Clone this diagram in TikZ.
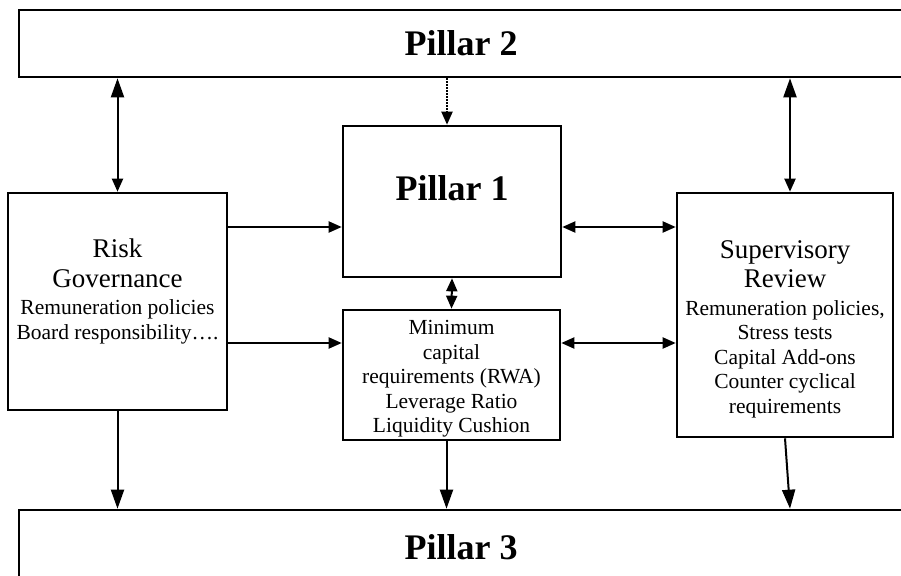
\documentclass[tikz,border=0pt]{standalone}
\usepackage{fontspec}
\setmainfont{Liberation Serif}
\usetikzlibrary{arrows.meta}

\begin{document}
\begin{tikzpicture}[x=1pt, y=-1pt,
	box/.style={draw, line width=2.6pt, inner sep=0pt},
	big/.style={font=\fontsize{36}{40}\selectfont\bfseries},
	txt/.style={align=center, font=\fontsize{21.5}{24.5}\selectfont},
	arr/.style={line width=2pt, -{Triangle[length=13pt,width=11pt]}},
	longarr/.style={line width=2pt, -{Triangle[length=19pt,width=13pt]}},
	dblarr/.style={line width=2pt, {Triangle[length=13pt,width=11pt]}-{Triangle[length=13pt,width=11pt]}},
	toparr/.style={line width=2pt, {Triangle[length=13pt,width=11pt]}-{Triangle[length=19pt,width=13pt]}}]
		\clip (0,0) rectangle (901,575);
		
		\node[box, big, minimum width=884pt, minimum height=67pt] (p2) at (461,43.5) {Pillar 2};
		\node[box, big, minimum width=884pt, minimum height=74pt] (p3) at (461,547) {Pillar 3};
		
		\node[box, minimum width=218pt, minimum height=151pt] (p1) at (452,201.5) {};
		\node[big] (p1txt) at ([yshift=13pt]p1.center) {Pillar 1};
		
		\node[box, minimum width=217pt, minimum height=130pt] (mincap) at (451.5,375) {};
		\node[txt] (mintxt) at ([yshift=-4pt]mincap.center) {Minimum\\capital\\requirements (RWA)\\Leverage Ratio\\Liquidity Cushion};
		
		\node[box, minimum width=219pt, minimum height=217pt] (risk) at (117.5,301.5) {};
		\node[txt] (risktxt) at ([yshift=10pt]risk.center) {{\fontsize{27}{30}\selectfont Risk}\\[5pt]{\fontsize{27}{30}\selectfont Governance}\\[3pt]Remuneration policies\\Board responsibility….};
		
		\node[box, minimum width=216pt, minimum height=244pt] (sup) at (785,315) {};
		\node[txt] (suptxt) at ([yshift=-14pt]sup.center) {{\fontsize{27}{30}\selectfont Supervisory}\\[5pt]{\fontsize{27}{30}\selectfont Review}\\[3pt]Remuneration policies,\\Stress tests\\Capital Add-ons\\Counter cyclical\\requirements};
		
		\coordinate (r1) at (0,227);
		\coordinate (r2) at (0,343);
		
		% links to pillar 2
		\draw[toparr] (risk.north) -- (risk.north |- p2.south);
		\draw[toparr] ([xshift=5pt]sup.north) -- ([xshift=5pt]sup.north |- p2.south);
		\draw[arr, densely dotted] ([xshift=-5pt]p1.north |- p2.south) -- ([xshift=-5pt]p1.north);
		
		% middle
		\draw[arr] (risk.east |- r1) -- (p1.west |- r1);
		\draw[arr] (risk.east |- r2) -- (mincap.west |- r2);
		\draw[dblarr] (p1.east |- r1) -- (sup.west |- r1);
		\draw[dblarr] (mincap.east |- r2) -- (sup.west |- r2);
		\draw[dblarr] (p1.south) -- (mincap.north);
		
		% links to pillar 3
		\draw[longarr] (risk.south) -- (risk.south |- p3.north);
		\draw[longarr] ([xshift=-5pt]mincap.south) -- ([xshift=-5pt]mincap.south |- p3.north);
		\draw[longarr] (sup.south) -- ([xshift=5pt]sup.south |- p3.north);
		
	\end{tikzpicture}
\end{document}
